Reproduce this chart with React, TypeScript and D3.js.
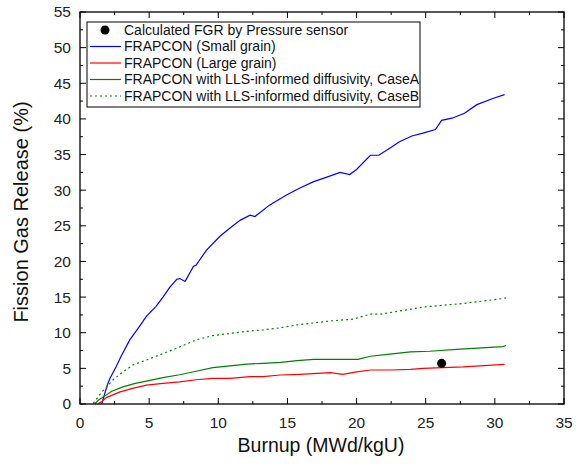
import React from "react";
import * as d3 from "d3";

const smallGrainX = [1.57, 1.75, 2.0, 2.17, 2.6, 3.0, 3.6, 4.2, 4.8, 5.5, 6.0, 6.5, 7.0, 7.23, 7.6, 8.2, 8.4, 9.15, 10.1, 10.85, 11.6, 12.3, 12.65, 13.7, 14.9, 15.9, 16.9, 17.8, 18.8, 19.5, 20.0, 21.0, 21.6, 22.4, 23.1, 24.0, 24.8, 25.7, 26.15, 26.9, 27.8, 28.7, 29.9, 30.7];
const smallGrainY = [0, 1.2, 2.8, 3.6, 5.2, 6.8, 9.0, 10.6, 12.3, 13.7, 15.0, 16.4, 17.5, 17.6, 17.2, 19.3, 19.5, 21.6, 23.5, 24.7, 25.8, 26.5, 26.3, 27.9, 29.3, 30.3, 31.2, 31.8, 32.5, 32.2, 32.9, 34.9, 34.9, 35.9, 36.8, 37.6, 38.0, 38.5, 39.8, 40.1, 40.8, 42.0, 42.9, 43.4];

const largeGrainX = [1.3, 1.6, 1.9, 2.9, 3.8, 4.8, 6.0, 7.2, 8.4, 9.6, 10.85, 12.3, 13.25, 14.46, 15.9, 18.1, 19.0, 20.0, 21.0, 22.4, 23.9, 24.8, 27.7, 30.7];
const largeGrainY = [0, 0.4, 0.9, 1.7, 2.2, 2.65, 2.9, 3.1, 3.4, 3.6, 3.6, 3.85, 3.85, 4.07, 4.17, 4.4, 4.17, 4.5, 4.77, 4.77, 4.86, 5.0, 5.2, 5.55];

const caseAX = [1.08, 1.3, 1.7, 2.3, 3.1, 4.0, 4.8, 6.0, 7.2, 8.4, 9.6, 10.85, 12.05, 13.25, 14.5, 15.7, 16.9, 20.1, 21.0, 22.4, 23.9, 25.3, 27.5, 30.6, 30.8];
const caseAY = [0, 0.5, 1.0, 1.8, 2.4, 2.9, 3.2, 3.7, 4.1, 4.6, 5.1, 5.35, 5.6, 5.7, 5.85, 6.08, 6.27, 6.27, 6.7, 7.0, 7.3, 7.4, 7.7, 8.05, 8.2];

const caseBX = [0.96, 1.5, 2.4, 3.1, 3.85, 4.7, 5.5, 6.3, 7.2, 8.4, 9.6, 10.85, 12.05, 13.25, 14.5, 15.7, 18.1, 19.75, 20.97, 21.7, 23.9, 24.8, 27.7, 30.6, 30.8];
const caseBY = [0.1, 1.5, 3.4, 4.5, 5.5, 6.1, 6.7, 7.3, 8.0, 9.0, 9.6, 9.9, 10.2, 10.4, 10.7, 11.1, 11.65, 11.9, 12.6, 12.6, 13.3, 13.6, 14.1, 14.8, 14.9];

const measuredX = [26.15];
const measuredY = [5.7];

const xTicks = [0, 5, 10, 15, 20, 25, 30, 35];
const yTicks = [0, 5, 10, 15, 20, 25, 30, 35, 40, 45, 50, 55];

const legendLabels = [
  "Calculated FGR by Pressure sensor",
  "FRAPCON (Small grain)",
  "FRAPCON (Large grain)",
  "FRAPCON with LLS-informed diffusivity, CaseA",
  "FRAPCON with LLS-informed diffusivity, CaseB",
];

const FONT = "'Liberation Sans', Arial, sans-serif";

export default function App() {
  const x = d3.scaleLinear().domain([0, 35]).range([80, 564]);
  const y = d3.scaleLinear().domain([0, 55]).range([404, 12]);
  const line = d3
    .line<[number, number]>()
    .x((d) => x(d[0]))
    .y((d) => y(d[1]));
  const zip = (a: number[], b: number[]) => a.map((v, i) => [v, b[i]] as [number, number]);

  const series = [
    { xs: smallGrainX, ys: smallGrainY, color: "#0000ff", dash: undefined },
    { xs: largeGrainX, ys: largeGrainY, color: "#ff0000", dash: undefined },
    { xs: caseAX, ys: caseAY, color: "#008000", dash: undefined },
    { xs: caseBX, ys: caseBY, color: "#008000", dash: "2,3" },
  ];

  const xMinor = d3.range(0, 35.01, 2.5).filter((v) => v % 5 !== 0);
  const yMinor = d3.range(0, 55.01, 2.5).filter((v) => v % 5 !== 0);
  const [x0, x1] = x.range();
  const [y0, y1] = y.range();

  const legendX = 87;
  const legendY = 22;
  const rowH = 16.5;

  return (
    <svg width={580} height={465} style={{ position: "absolute", left: 0, top: 0, background: "#fff" }} fontFamily={FONT}>
      <rect x={0} y={0} width={580} height={465} fill="#fff" />
      {/* data lines */}
      {series.map((s, i) => (
        <path
          key={i}
          d={line(zip(s.xs, s.ys)) || ""}
          fill="none"
          stroke={s.color}
          strokeWidth={1.2}
          strokeDasharray={s.dash}
        />
      ))}
      {measuredX.map((v, i) => (
        <circle key={i} cx={x(v)} cy={y(measuredY[i])} r={4.5} fill="#000" />
      ))}
      {/* frame */}
      <rect x={x0} y={y1} width={x1 - x0} height={y0 - y1} fill="none" stroke="#000" strokeWidth={1.3} />
      {/* x ticks */}
      {xTicks.map((t) => (
        <g key={"xt" + t}>
          <line x1={x(t)} x2={x(t)} y1={y0} y2={y0 - 6} stroke="#000" />
          <line x1={x(t)} x2={x(t)} y1={y1} y2={y1 + 6} stroke="#000" />
          <text x={x(t)} y={428} textAnchor="middle" fontSize={15.5} fill="#222">
            {t}
          </text>
        </g>
      ))}
      {xMinor.map((t) => (
        <g key={"xm" + t}>
          <line x1={x(t)} x2={x(t)} y1={y0} y2={y0 - 3} stroke="#000" />
          <line x1={x(t)} x2={x(t)} y1={y1} y2={y1 + 3} stroke="#000" />
        </g>
      ))}
      {/* y ticks */}
      {yTicks.map((t) => (
        <g key={"yt" + t}>
          <line x1={x0} x2={x0 + 6} y1={y(t)} y2={y(t)} stroke="#000" />
          <line x1={x1} x2={x1 - 6} y1={y(t)} y2={y(t)} stroke="#000" />
          <text x={71} y={y(t)} dy="0.35em" textAnchor="end" fontSize={15.5} fill="#222">
            {t}
          </text>
        </g>
      ))}
      {yMinor.map((t) => (
        <g key={"ym" + t}>
          <line x1={x0} x2={x0 + 3} y1={y(t)} y2={y(t)} stroke="#000" />
          <line x1={x1} x2={x1 - 3} y1={y(t)} y2={y(t)} stroke="#000" />
        </g>
      ))}
      {/* axis titles */}
      <text x={321} y={452} textAnchor="middle" fontSize={19.5} fill="#111">
        Burnup (MWd/kgU)
      </text>
      <text
        transform="translate(28,212) rotate(-90)"
        textAnchor="middle"
        fontSize={20}
        fill="#111"
      >
        Fission Gas Release (%)
      </text>
      {/* legend */}
      <rect x={legendX} y={legendY} width={333} height={85} fill="#fff" stroke="#000" strokeWidth={1} />
      {legendLabels.map((lab, i) => {
        const cy = legendY + 8 + i * rowH;
        return (
          <g key={"lg" + i}>
            {i === 0 ? (
              <circle cx={105} cy={cy} r={4.5} fill="#000" />
            ) : (
              <line
                x1={90}
                x2={121}
                y1={cy}
                y2={cy}
                stroke={series[i - 1].color}
                strokeWidth={1.2}
                strokeDasharray={series[i - 1].dash}
              />
            )}
            <text x={124} y={cy} dy="0.35em" fontSize={14} fill="#111">
              {lab}
            </text>
          </g>
        );
      })}
    </svg>
  );
}
